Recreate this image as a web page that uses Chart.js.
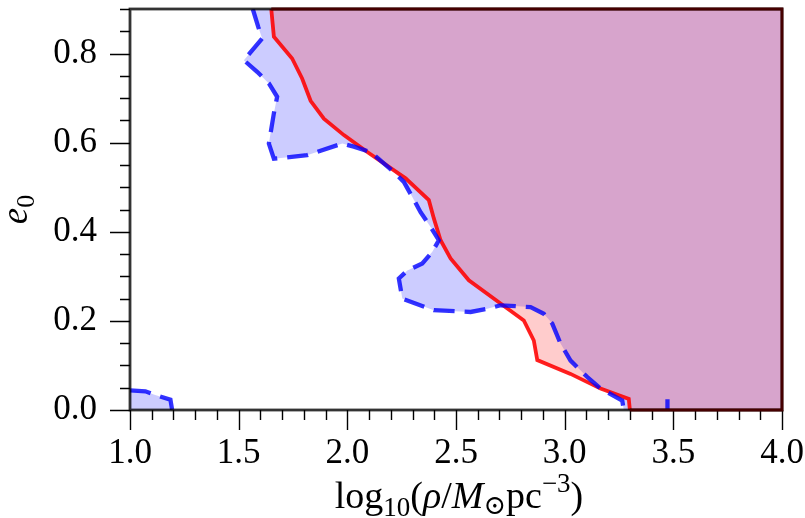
<!DOCTYPE html>
<html>
<head>
<meta charset="utf-8">
<script src="https://cdn.jsdelivr.net/npm/chart.js@4.4.1/dist/chart.umd.min.js"></script>
<style>
  html, body { margin: 0; padding: 0; background: #fff; }
  #wrap { width: 805px; height: 518px; }
</style>
</head>
<body>
<div id="wrap"><canvas id="c" width="805" height="518"></canvas></div>
<script>
// Axis ranges and ticks
const xRange = [1.0, 4.0];
const yRange = [0.0, 0.9];
const xMajorStep = 0.5, xMinorStep = 0.1;
const yMajorStep = 0.2, yMinorStep = 0.05;

// Red (solid) contour: boundary from top edge to bottom edge, region to the right
const redX = [1.65, 1.662, 1.746, 1.792, 1.831, 1.892, 1.984, 2.092, 2.268, 2.375, 2.398, 2.429, 2.475, 2.559, 2.705, 2.812, 2.858, 2.874, 3.027, 3.165, 3.295, 3.30];
const redY = [0.90, 0.838, 0.789, 0.744, 0.694, 0.654, 0.617, 0.579, 0.520, 0.471, 0.430, 0.381, 0.340, 0.291, 0.239, 0.201, 0.156, 0.112, 0.081, 0.048, 0.025, 0.0];

// Blue (dashed) contour: main boundary, region to the right
const blueX = [1.565, 1.59, 1.608, 1.524, 1.585, 1.639, 1.677, 1.662, 1.639, 1.662, 1.815, 1.977, 2.030, 2.107, 2.214, 2.260, 2.299, 2.337, 2.383, 2.421, 2.391, 2.345, 2.276, 2.237, 2.253, 2.398, 2.567, 2.644, 2.705, 2.843, 2.904, 2.943, 2.981, 3.027, 3.104, 3.165, 3.265, 3.272];
const blueY = [0.90, 0.86, 0.834, 0.785, 0.759, 0.733, 0.703, 0.666, 0.598, 0.564, 0.572, 0.598, 0.591, 0.579, 0.534, 0.512, 0.478, 0.444, 0.411, 0.381, 0.355, 0.329, 0.313, 0.295, 0.250, 0.224, 0.220, 0.227, 0.235, 0.231, 0.216, 0.194, 0.149, 0.111, 0.074, 0.048, 0.021, 0.0];

// Blue small spike near bottom
const blueSpikeX = [3.472, 3.472, 3.474];
const blueSpikeY = [0.0, 0.024, 0.0];

// Blue small patch at lower-left
const blueSmallX = [1.0, 1.071, 1.109, 1.186, 1.194];
const blueSmallY = [0.044, 0.042, 0.035, 0.023, 0.0];

const pts = (xs, ys) => xs.map((x, i) => ({x: x, y: ys[i]}));

// Closed regions (add domain corners)
const redFill = pts(redX, redY).concat([{x: xRange[1], y: yRange[0]}, {x: xRange[1], y: yRange[1]}, {x: redX[0], y: redY[0]}]);
const blueFill = pts(blueX, blueY).concat([{x: xRange[1], y: yRange[0]}, {x: xRange[1], y: yRange[1]}, {x: blueX[0], y: blueY[0]}]);
const blueSmallFill = [{x: xRange[0], y: yRange[0]}].concat(pts(blueSmallX, blueSmallY)).concat([{x: xRange[0], y: yRange[0]}]);

const RED = 'rgba(255,0,0,0.88)';
const BLUE = 'rgba(0,0,255,0.8)';
const RED_FILL = 'rgba(255,0,0,0.2)';
const BLUE_FILL = 'rgba(0,0,255,0.2)';
const SERIF = '"Liberation Serif", "Times New Roman", serif';
const FS = 35;

const base = {pointRadius: 0, pointHoverRadius: 0, tension: 0};

const datasets = [
  Object.assign({}, base, {label: 'blue line', data: pts(blueX, blueY), borderColor: BLUE, borderWidth: 4.3, borderDash: [21, 10], borderCapStyle: 'butt', fill: false}),
  Object.assign({}, base, {label: 'blue spike', data: pts(blueSpikeX, blueSpikeY), borderColor: BLUE, borderWidth: 4.3, borderCapStyle: 'round', fill: false}),
  Object.assign({}, base, {label: 'blue small line', data: pts(blueSmallX, blueSmallY), borderColor: BLUE, borderWidth: 4.3, borderDash: [21, 10], fill: false}),
  Object.assign({}, base, {label: 'red line', data: pts(redX, redY), borderColor: RED, borderWidth: 3.8, fill: false}),
  Object.assign({}, base, {label: 'red fill', data: redFill, borderWidth: 0, borderColor: 'rgba(0,0,0,0)', backgroundColor: RED_FILL, fill: 'shape'}),
  Object.assign({}, base, {label: 'blue fill', data: blueFill, borderWidth: 0, borderColor: 'rgba(0,0,0,0)', backgroundColor: BLUE_FILL, fill: 'shape'}),
  Object.assign({}, base, {label: 'blue small fill', data: blueSmallFill, borderWidth: 0, borderColor: 'rgba(0,0,0,0)', backgroundColor: BLUE_FILL, fill: 'shape'})
];

function seq(a, b, step) {
  const out = [];
  const n = Math.round((b - a) / step);
  for (let i = 0; i <= n; i++) out.push(+(a + i * step).toFixed(6));
  return out;
}

function zeroPad(s) { s.paddingLeft = 0; s.paddingRight = 0; s.paddingTop = 0; s.paddingBottom = 0; }

const framePlugin = {
  id: 'frameTicks',
  afterDatasetsDraw(chart) {
    const ctx = chart.ctx;
    const xs = chart.scales.x, ys = chart.scales.y;
    const a = chart.chartArea;
    ctx.save();
    ctx.strokeStyle = '#000';
    ctx.lineWidth = 1.4;
    ctx.beginPath();
    seq(xRange[0], xRange[1], xMinorStep).forEach(v => {
      const major = Math.abs(v / xMajorStep - Math.round(v / xMajorStep)) < 1e-6;
      const px = Math.round(xs.getPixelForValue(v)) + 0.5;
      ctx.moveTo(px, a.bottom);
      ctx.lineTo(px, a.bottom + (major ? 20 : 10));
    });
    seq(yRange[0], yRange[1], yMinorStep).forEach(v => {
      const major = Math.abs(v / yMajorStep - Math.round(v / yMajorStep)) < 1e-6;
      const py = Math.round(ys.getPixelForValue(v)) + 0.5;
      ctx.moveTo(a.left, py);
      ctx.lineTo(a.left - (major ? 20 : 10), py);
    });
    ctx.stroke();
    // frame: dark, slightly red-tinted where the red region touches it
    ctx.lineWidth = 2.8;
    ctx.strokeStyle = 'rgba(0,0,0,0.8)';
    ctx.strokeRect(a.left, a.top, a.right - a.left, a.bottom - a.top);
    const xr = xs.getPixelForValue(redX[0]);
    const xb = xs.getPixelForValue(redX[redX.length - 1]);
    ctx.strokeStyle = 'rgba(70,0,0,1)';
    ctx.beginPath();
    ctx.moveTo(xr, a.top);
    ctx.lineTo(a.right, a.top);
    ctx.lineTo(a.right, a.bottom);
    ctx.lineTo(xb, a.bottom);
    ctx.stroke();
    ctx.restore();
  },
  afterDraw(chart) {
    const ctx = chart.ctx;
    const a = chart.chartArea;
    ctx.save();
    ctx.fillStyle = '#000';
    ctx.textBaseline = 'alphabetic';
    const fs = 38;
    const sub = Math.round(fs * 0.7);
    const parts = [
      {t: 'log', f: fs + 'px ' + SERIF, dy: 0},
      {t: '10', f: sub + 'px ' + SERIF, dy: 8},
      {t: '(', f: fs + 'px ' + SERIF, dy: 0},
      {t: 'ρ', f: 'italic ' + fs + 'px ' + SERIF, dy: 0},
      {t: '/', f: fs + 'px ' + SERIF, dy: 0},
      {t: 'M', f: 'italic ' + fs + 'px ' + SERIF, dy: 0},
      {t: '⊙', f: sub + 'px "DejaVu Serif", ' + SERIF, dy: 6},
      {t: 'pc', f: fs + 'px ' + SERIF, dy: 0},
      {t: '−3', f: sub + 'px ' + SERIF, dy: -16},
      {t: ')', f: fs + 'px ' + SERIF, dy: 0}
    ];
    let total = 0;
    parts.forEach(p => { ctx.font = p.f; p.w = ctx.measureText(p.t).width; total += p.w; });
    let x = (a.left + a.right) / 2 + 3 - total / 2;
    const baseY = 508;
    parts.forEach(p => { ctx.font = p.f; ctx.fillText(p.t, x, baseY + p.dy); x += p.w; });

    // Y title: e0 (rotated)
    ctx.translate(27, (a.top + a.bottom) / 2);
    ctx.rotate(-Math.PI / 2);
    const fy = 37;
    const suby = Math.round(fy * 0.7);
    ctx.font = 'italic ' + fy + 'px ' + SERIF;
    const we = ctx.measureText('e').width;
    ctx.font = suby + 'px ' + SERIF;
    const w0 = ctx.measureText('0').width;
    let sx = -(we + w0) / 2;
    ctx.font = 'italic ' + fy + 'px ' + SERIF;
    ctx.fillText('e', sx, 0);
    ctx.font = suby + 'px ' + SERIF;
    ctx.fillText('0', sx + we, 7);
    ctx.restore();
  }
};

new Chart(document.getElementById('c'), {
  type: 'line',
  data: {datasets: datasets},
  options: {
    responsive: false,
    animation: false,
    events: [],
    layout: {padding: {top: 9, right: 23, left: 0, bottom: 0}},
    plugins: {legend: {display: false}, tooltip: {enabled: false}, filler: {propagate: false}},
    scales: {
      x: {
        type: 'linear', min: xRange[0], max: xRange[1],
        afterFit(s) { s.height = 108; zeroPad(s); },
        afterBuildTicks(s) { s.ticks = seq(xRange[0], xRange[1], xMajorStep).map(v => ({value: v})); },
        ticks: {color: '#000', font: {family: SERIF, size: FS}, padding: 23, maxRotation: 0, autoSkip: false,
          callback: v => v.toFixed(1)},
        grid: {display: false, drawTicks: false},
        border: {display: false}
      },
      y: {
        type: 'linear', min: yRange[0], max: yRange[1],
        afterFit(s) { s.width = 130; zeroPad(s); },
        afterBuildTicks(s) { s.ticks = seq(yRange[0], 0.8, yMajorStep).map(v => ({value: v})); },
        ticks: {color: '#000', font: {family: SERIF, size: FS}, padding: 33, autoSkip: false,
          callback: v => v.toFixed(1)},
        grid: {display: false, drawTicks: false},
        border: {display: false}
      }
    }
  },
  plugins: [framePlugin]
});
</script>
</body>
</html>
